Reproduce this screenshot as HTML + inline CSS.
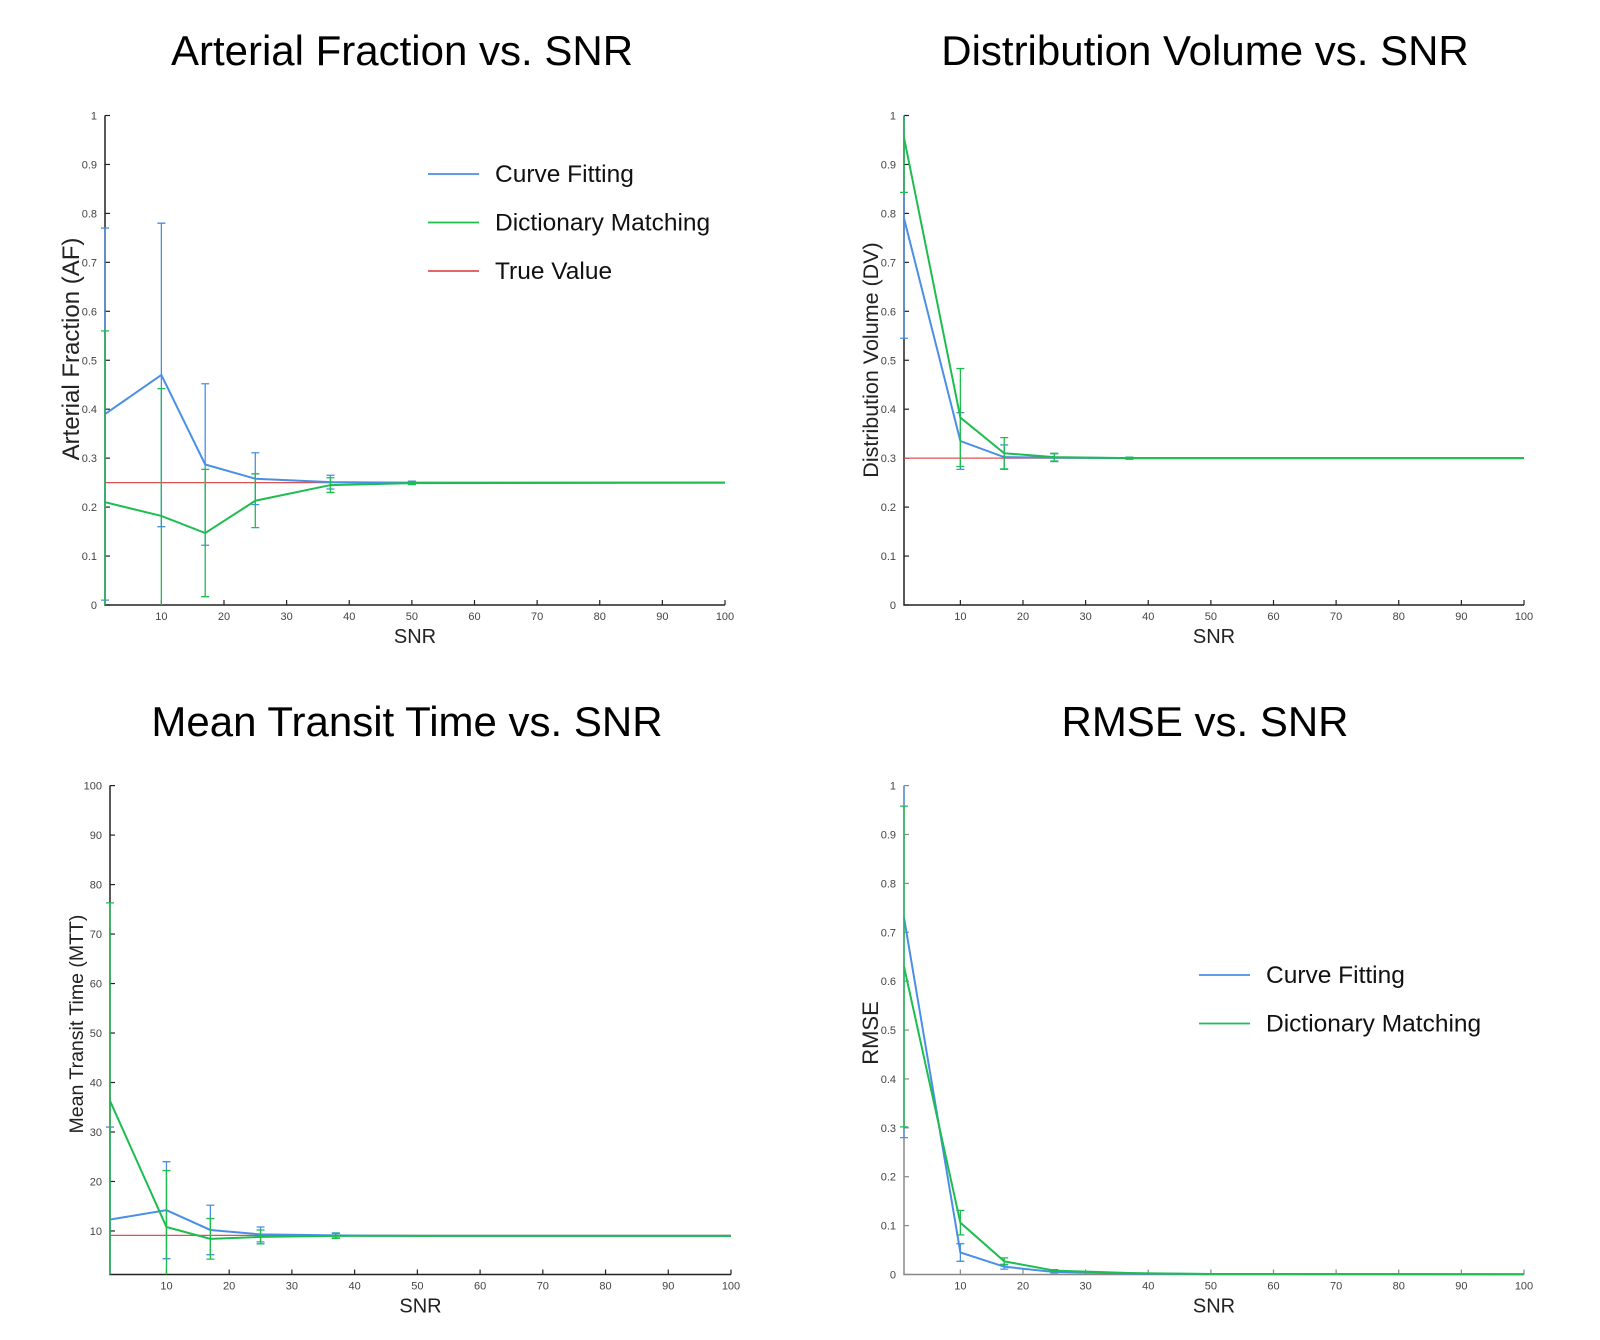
<!DOCTYPE html>
<html><head><meta charset="utf-8"><style>
body{margin:0;background:#fff;width:1600px;height:1340px;overflow:hidden;font-family:"Liberation Sans",sans-serif}
svg{position:absolute;left:0;top:0}
</style></head><body>
<svg id="s" width="1600" height="1340"></svg>
<script>
// ---- data ----
const snr = [1,10,17,25,37,50,100];
const afCF = [0.39,0.47,0.287,0.258,0.251,0.25,0.25];
const afCFerr = [0.38,0.31,0.165,0.053,0.014,0.003,0];
const afDM = [0.21,0.182,0.147,0.213,0.245,0.249,0.25];
const afDMerr = [0.35,0.26,0.13,0.055,0.015,0.003,0];
const afTrue = 0.25;
const dvCF = [0.79,0.335,0.302,0.301,0.3,0.3,0.3];
const dvCFerr = [0.245,0.058,0.025,0.008,0.002,0,0];
const dvDM = [0.955,0.383,0.31,0.302,0.3,0.3,0.3];
const dvDMerr = [0.112,0.1,0.032,0.008,0.002,0,0];
const dvTrue = 0.3;
const mtCF = [12.3,14.2,10.2,9.3,9.1,9.0,9.0];
const mtCFerr = [18.7,9.8,5,1.5,0.5,0,0];
const mtDM = [36.3,10.8,8.4,8.8,9.0,9.0,9.0];
const mtDMerr = [40,11.4,4.1,1.4,0.5,0,0];
const mtTrue = 9.1;
const rmCF = [0.73,0.045,0.016,0.005,0.002,0.001,0.0005];
const rmCFerr = [0.45,0.018,0.005,0.002,0,0,0];
const rmDM = [0.63,0.106,0.027,0.008,0.003,0.001,0.0005];
const rmDMerr = [0.328,0.025,0.007,0.002,0,0,0];
const xTicks = [10,20,30,40,50,60,70,80,90,100];
const fracTicks = [0,0.1,0.2,0.3,0.4,0.5,0.6,0.7,0.8,0.9,1];
const mttTicks = [10,20,30,40,50,60,70,80,90,100];

const NS="http://www.w3.org/2000/svg";
const svg=document.getElementById('s');
function el(tag,attrs,parent,text){const e=document.createElementNS(NS,tag);for(const k in attrs)e.setAttribute(k,attrs[k]);if(text!==undefined)e.textContent=text;(parent||svg).appendChild(e);return e;}
const BLUE="#4a8fe6",GREEN="#1dbd4f",RED="#e05050";

function chart(o){
  const g=el('g',{});
  
  
  const X=v=>o.x0+(v-1)*(o.x1-o.x0)/99;
  const Y=v=>o.yb-(v-o.ymin)*(o.yb-o.yt)/(o.ymax-o.ymin);
  const t=el('text',{x:o.tx,y:o.ty,'text-anchor':'middle','font-size':42,fill:'#000'},g,o.title);
  
  
  const ac=o.axisColor||'#222';
  const ax=el('path',{d:`M${o.x0} ${o.yt}V${o.yb}H${o.x1}`,stroke:ac,'stroke-width':1.5,fill:'none'},g);
  
  
  for(const v of o.yTicks){const y=Y(v);
    el('line',{x1:o.x0,x2:o.x0+5,y1:y,y2:y,stroke:ac,'stroke-width':1.2},g);
    const l=el('text',{x:o.x0-8,y:y+4,'text-anchor':'end','font-size':11,fill:'#444'},g,String(v));
    
    }
  for(const v of xTicks){const x=X(v);
    el('line',{x1:x,x2:x,y1:o.yb,y2:o.yb-5,stroke:ac,'stroke-width':1.2},g);
    const l=el('text',{x:x,y:o.yb+15,'text-anchor':'middle','font-size':11,fill:'#444'},g,String(v));
    
    }
  const xl=el('text',{x:(o.x0+o.x1)/2,y:o.yb+38,'text-anchor':'middle','font-size':20,fill:'#222'},g,'SNR');
  
  
  const cy=o.ylcy;
  const yl=el('text',{x:o.ylx,y:cy,'text-anchor':'middle','font-size':o.ylfs,fill:'#222',transform:`rotate(-90 ${o.ylx} ${cy})`},g,o.ylabel);
  
  
  if(o.trueV!==undefined){const r=el('line',{x1:o.x0,x2:o.x1,y1:Y(o.trueV),y2:Y(o.trueV),stroke:RED,'stroke-width':1.2},g);
    
    }
  const series=[[o.cf,o.cfe,BLUE,'curve-fitting'],[o.dm,o.dme,GREEN,'dictionary-matching']];
  for(const [vals,errs,c,n] of series){
    const clip=v=>Math.max(o.ymin,Math.min(o.ymax,v));
    vals.forEach((v,i)=>{ if(!errs[i])return;
      const x=X(snr[i]),hi=v+errs[i],lo=v-errs[i];
      const e=el('path',{d:`M${x} ${Y(clip(hi))}V${Y(clip(lo))}`+(hi<=o.ymax?`M${x-4} ${Y(hi)}H${x+4}`:'')+(lo>=o.ymin?`M${x-4} ${Y(lo)}H${x+4}`:''),stroke:c,'stroke-width':1.3,fill:'none'},g);
      
      
    });
    const p=el('polyline',{points:vals.map((v,i)=>X(snr[i])+','+Y(v)).join(' '),stroke:c,'stroke-width':2,fill:'none'},g);
    
    
  }
  if(o.legend){const L=o.legend;
    L.items.forEach((it,i)=>{const y=L.y+i*L.dy;
      const lg=el('g',{},g);
      
      
      el('line',{x1:L.x,x2:L.x+51,y1:y,y2:y,stroke:it[1],'stroke-width':1.8},lg);
      el('text',{x:L.x+67,y:y+8,'font-size':24.5,fill:'#111'},lg,it[0]);});}
}
chart({name:'af-chart',title:'Arterial Fraction vs. SNR',tx:402,ty:65,x0:105,x1:725,yt:115.5,yb:605,ymin:0,ymax:1,yTicks:fracTicks,
  ylabel:'Arterial Fraction (AF)',ylx:79,ylcy:349,ylfs:24,cf:afCF,cfe:afCFerr,dm:afDM,dme:afDMerr,trueV:afTrue,
  legend:{x:428,y:174,dy:48.5,items:[['Curve Fitting',BLUE],['Dictionary Matching',GREEN],['True Value',RED]]}});
chart({name:'dv-chart',title:'Distribution Volume vs. SNR',tx:1205,ty:65,x0:904,x1:1524,yt:115.5,yb:605,ymin:0,ymax:1,yTicks:fracTicks,
  ylabel:'Distribution Volume (DV)',ylx:878,ylcy:360,ylfs:21.5,cf:dvCF,cfe:dvCFerr,dm:dvDM,dme:dvDMerr,trueV:dvTrue});
chart({name:'mtt-chart',title:'Mean Transit Time vs. SNR',tx:407,ty:736,x0:110,x1:731,yt:785.6,yb:1274.5,ymin:1.2,ymax:100,yTicks:mttTicks,
  ylabel:'Mean Transit Time (MTT)',ylx:83,ylcy:1024,ylfs:19.5,cf:mtCF,cfe:mtCFerr,dm:mtDM,dme:mtDMerr,trueV:mtTrue});
chart({name:'rmse-chart',title:'RMSE vs. SNR',tx:1205,ty:736,x0:904,x1:1524,yt:785.6,yb:1274.5,ymin:0,ymax:1,yTicks:fracTicks,axisColor:'#888',
  ylabel:'RMSE',ylx:878,ylcy:1033,ylfs:22,cf:rmCF,cfe:rmCFerr,dm:rmDM,dme:rmDMerr,
  legend:{x:1199,y:975,dy:48.5,items:[['Curve Fitting',BLUE],['Dictionary Matching',GREEN]]}});
</script>
</body></html>
